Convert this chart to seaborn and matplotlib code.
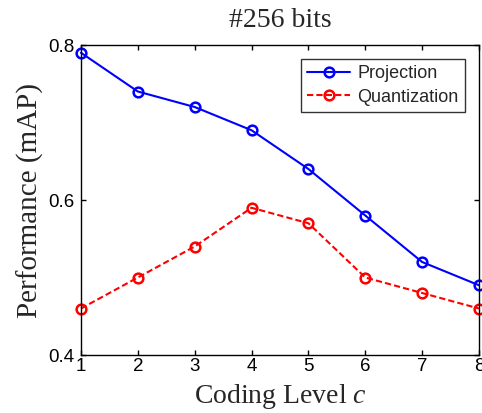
import matplotlib
matplotlib.use("Agg")
import matplotlib.pyplot as plt
import seaborn as sns
import pandas as pd

levels = [1, 2, 3, 4, 5, 6, 7, 8]
projection = [0.79, 0.74, 0.72, 0.69, 0.64, 0.58, 0.52, 0.49]
quantization = [0.46, 0.50, 0.54, 0.59, 0.57, 0.50, 0.48, 0.46]
series_names = ["Projection", "Quantization"]
y_ticks = [0.4, 0.6, 0.8]

sns.set_theme(style="white")
plt.rcParams["font.family"] = ["Liberation Sans", "DejaVu Sans"]
plt.rcParams["mathtext.fontset"] = "custom"
plt.rcParams["mathtext.it"] = "Liberation Serif:italic"
plt.rcParams["mathtext.rm"] = "Liberation Serif"

colors = {"Projection": "#0000ff", "Quantization": "#ff0000"}

df = pd.DataFrame({
    "level": levels * 2,
    "value": projection + quantization,
    "series": [series_names[0]] * len(levels) + [series_names[1]] * len(levels),
})

fig = plt.figure(figsize=(4.82, 4.13), dpi=100)
ax = fig.add_axes([0.168, 0.1404, 0.8258, 0.7506])

sns.lineplot(data=df, x="level", y="value", hue="series", style="series",
             palette=colors,
             dashes={"Projection": "", "Quantization": (3, 1.5)},
             markers={"Projection": "o", "Quantization": "o"},
             markersize=7, markeredgewidth=1.8,
             linewidth=1.5, ax=ax, clip_on=False)

for line in ax.lines:
    c = line.get_color()
    line.set_markeredgecolor(c)
    line.set_markerfacecolor("none")

ax.set_xlim(1, 8)
ax.set_ylim(0.4, 0.8)
ax.set_xticks(levels)
ax.set_yticks(y_ticks)
ax.set_yticklabels(["0.4", "0.6", "0.8"])
ax.tick_params(axis="both", direction="in", length=3.5, width=1, labelsize=13.5,
               top=True, right=True, bottom=True, left=True, colors="black")
ax.tick_params(axis="x", pad=2)
ax.tick_params(axis="y", pad=5)
for s in ax.spines.values():
    s.set_color("black")
    s.set_linewidth(1)

serif = ["Liberation Serif", "DejaVu Serif"]
ax.set_title("#256 bits", fontsize=20, family=serif, pad=13)
ax.set_xlabel("Coding Level $c$", fontsize=20, family=serif, labelpad=5)
ax.set_ylabel("Performance (mAP)", fontsize=21, family=serif, labelpad=3)

leg = ax.legend(loc="upper right", bbox_to_anchor=(0.965, 0.955), fontsize=13,
                frameon=True, fancybox=False, edgecolor="black",
                handlelength=2.4, borderpad=0.35, labelspacing=0.35,
                handletextpad=0.4, borderaxespad=0)
leg.get_frame().set_linewidth(1)
for h in leg.get_lines():
    h.set_markeredgecolor(h.get_color())
    h.set_markerfacecolor("none")

fig.savefig("out.png", dpi=100)
